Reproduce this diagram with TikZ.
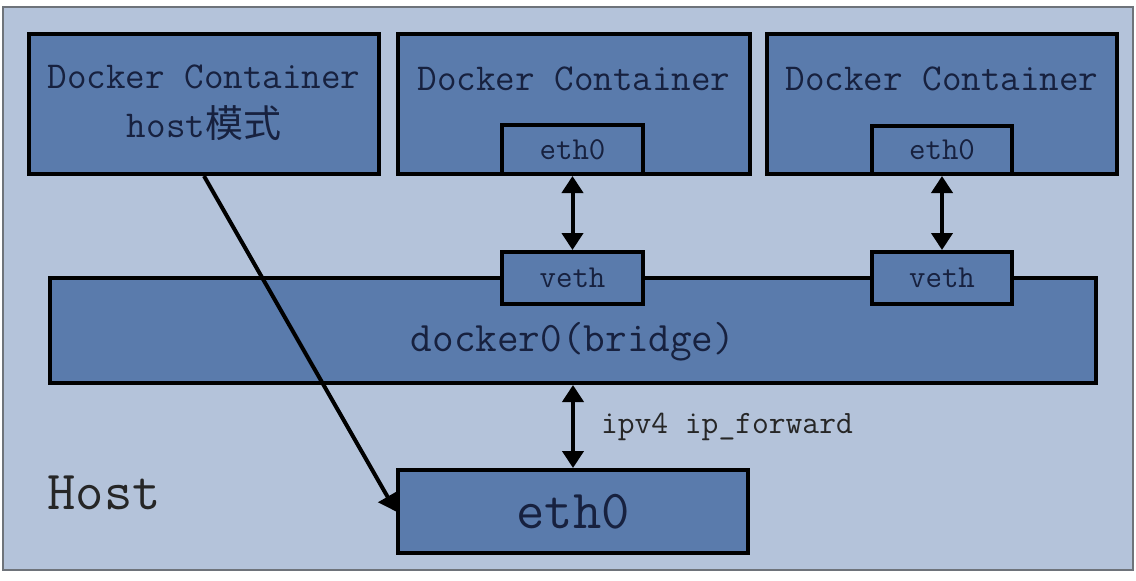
\documentclass[tikz,border=0pt]{standalone}
\usepackage{fontspec}
\newfontfamily\cjk{Noto Sans CJK SC}
\usepackage{tikz}
\usetikzlibrary{arrows.meta,positioning}
\definecolor{hostbg}{HTML}{B4C3DA}
\definecolor{boxblue}{HTML}{5A7BAC}
\definecolor{txtblue}{HTML}{17213F}
\definecolor{framegray}{HTML}{6E737A}

\begin{document}
\begin{tikzpicture}[x=0.5pt,y=-0.5pt,
  box/.style={draw=black,line width=2pt,fill=boxblue,inner sep=0pt},
  lbl/.style={font=\ttfamily\fontsize{19}{24.5}\selectfont,text=txtblue,inner sep=0pt,align=center},
  link/.style={line width=2pt,{Triangle[width=10.5pt,length=8.5pt]}-{Triangle[width=10.5pt,length=8.5pt]}}]
\useasboundingbox (0,0) rectangle (1136,580);
% host frame
\draw[draw=framegray,line width=1pt,fill=hostbg] (3,7) rectangle (1133,570);

% containers
\node (c1) at (204,104) [box,minimum width=175pt,minimum height=70pt] {};
\node (c2) at (574,104) [box,minimum width=176pt,minimum height=70pt] {};
\node (c3) at (942,104) [box,minimum width=175pt,minimum height=70pt] {};
\node (t1) at (204,103) [lbl] {Docker Container\\host{\cjk 模式}};
\node (t2) at (574,79) [lbl] {Docker Container};
\node (t3) at (942,79) [lbl] {Docker Container};

\node (e2) at (572.5,149.5) [box,minimum width=70.5pt,minimum height=24.5pt,
  font=\ttfamily\fontsize{16}{19}\selectfont,text=txtblue] {eth0};
\node (e3) at (942,150) [box,minimum width=70pt,minimum height=24pt,
  font=\ttfamily\fontsize{16}{19}\selectfont,text=txtblue] {eth0};

% bridge and veth pair ends
\node (br) at (573,330.5) [box,minimum width=523pt,minimum height=52.5pt] {};
\node (brl) at (573,342) [font=\ttfamily\fontsize{21}{25}\selectfont,text=txtblue,inner sep=0pt] {docker0(bridge)};
\node (v2) at (572.5,278) [box,minimum width=70.5pt,minimum height=26pt,
  font=\ttfamily\fontsize{16}{19}\selectfont,text=txtblue] {veth};
\node (v3) at (942,278) [box,minimum width=70pt,minimum height=26pt,
  font=\ttfamily\fontsize{16}{19}\selectfont,text=txtblue] {veth};

% host side
\node (heth) at (573,511.5) [box,minimum width=175pt,minimum height=41.5pt,
  font=\ttfamily\fontsize{27.5}{32}\selectfont,text=txtblue] {eth0};
\node (host) at (104,493) [font=\ttfamily\fontsize{27.5}{32}\selectfont,text=black!85,inner sep=0pt] {Host};

% links
\draw[link] (e2.south) -- (v2.north);
\draw[link] (e3.south) -- (v3.north);
\draw[link] (br.south) -- (heth.north)
  node (fwd) [midway,right=13pt,font=\ttfamily\fontsize{16.3}{19}\selectfont,text=black!85,inner sep=0pt] {ipv4 ip\_forward};
\draw[line width=2pt,-{Triangle[width=10.5pt,length=8.5pt]}] (c1.south) -- (heth.west);
\end{tikzpicture}
\end{document}
